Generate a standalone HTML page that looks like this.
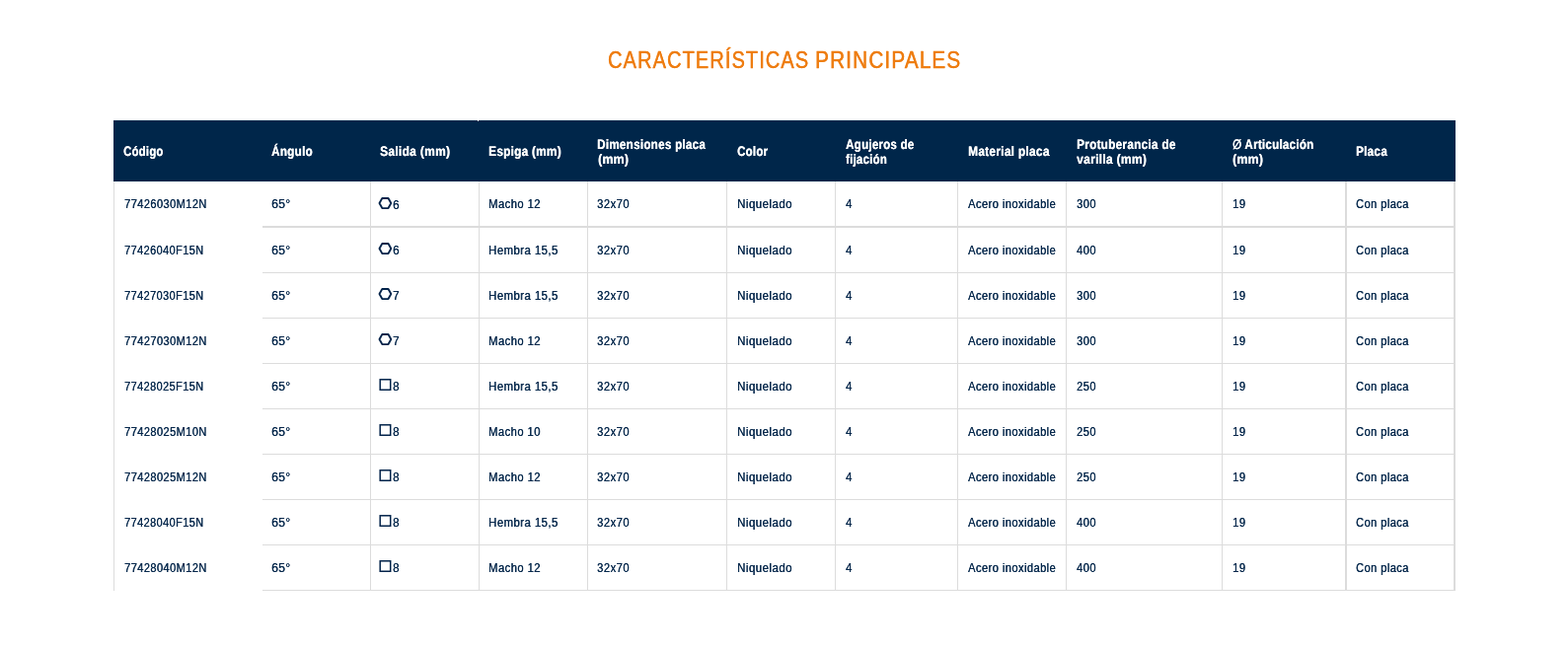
<!DOCTYPE html>
<html lang="es"><head><meta charset="utf-8"><title>Características principales</title>
<style>
html,body{margin:0;padding:0;background:#fff;}
body{width:1589px;height:657px;position:relative;overflow:hidden;font-family:"Liberation Sans",Arial,Helvetica,sans-serif;}
.t{position:absolute;white-space:nowrap;line-height:1;transform-origin:0 0;display:block;margin:0;padding:0;}
.b{text-shadow:0.4px 0 0 currentColor;letter-spacing:0.5px;}
.n{text-shadow:0.15px 0 0 currentColor;letter-spacing:0.2px;}
.h{letter-spacing:0.3px;text-shadow:0.3px 0 0 currentColor;}
.tt{text-shadow:0.3px 0 0 currentColor;-webkit-text-stroke:0.3px currentColor;letter-spacing:1.3px;}
.l{position:absolute;background:#dcdcdc;}
.hd{position:absolute;left:115px;top:122px;width:1360px;height:62px;background:#00264a;}
svg{position:absolute;overflow:visible;}
</style></head><body>
<div class="hd"></div>
<div class="l" style="left:115px;top:184px;width:1px;height:415px"></div>
<div style="position:absolute;left:484px;top:122px;width:1px;height:1px;background:#e8e8e8"></div>
<div class="l" style="left:375px;top:184px;width:1px;height:415px"></div>
<div class="l" style="left:485px;top:184px;width:1px;height:415px"></div>
<div class="l" style="left:595px;top:184px;width:1px;height:415px"></div>
<div class="l" style="left:736px;top:184px;width:1px;height:415px"></div>
<div class="l" style="left:846px;top:184px;width:1px;height:415px"></div>
<div class="l" style="left:970px;top:184px;width:1px;height:415px"></div>
<div class="l" style="left:1080px;top:184px;width:1px;height:415px"></div>
<div class="l" style="left:1238px;top:184px;width:1px;height:415px"></div>
<div class="l" style="left:1363px;top:184px;width:2px;height:415px"></div>
<div class="l" style="left:1473px;top:184px;width:2px;height:415px"></div>
<div class="l" style="left:266px;top:229px;width:1209px;height:2px"></div>
<div class="l" style="left:266px;top:276px;width:1209px;height:1px"></div>
<div class="l" style="left:266px;top:322px;width:1209px;height:1px"></div>
<div class="l" style="left:266px;top:368px;width:1209px;height:1px"></div>
<div class="l" style="left:266px;top:414px;width:1209px;height:1px"></div>
<div class="l" style="left:266px;top:460px;width:1209px;height:1px"></div>
<div class="l" style="left:266px;top:506px;width:1209px;height:1px"></div>
<div class="l" style="left:266px;top:552px;width:1209px;height:1px"></div>
<div class="l" style="left:266px;top:598px;width:1209px;height:1px"></div>
<svg style="left:383px;top:199px" width="15" height="14" viewBox="0 0 15 14"><polygon points="1.5,7 4.3,1.95 10.5,1.95 13.3,7 10.5,12.05 4.3,12.05" fill="none" stroke="#02234a" stroke-width="1.85" stroke-linejoin="round"/></svg>
<svg style="left:383px;top:245px" width="15" height="14" viewBox="0 0 15 14"><polygon points="1.5,7 4.3,1.95 10.5,1.95 13.3,7 10.5,12.05 4.3,12.05" fill="none" stroke="#02234a" stroke-width="1.85" stroke-linejoin="round"/></svg>
<svg style="left:383px;top:291px" width="15" height="14" viewBox="0 0 15 14"><polygon points="1.5,7 4.3,1.95 10.5,1.95 13.3,7 10.5,12.05 4.3,12.05" fill="none" stroke="#02234a" stroke-width="1.85" stroke-linejoin="round"/></svg>
<svg style="left:383px;top:337px" width="15" height="14" viewBox="0 0 15 14"><polygon points="1.5,7 4.3,1.95 10.5,1.95 13.3,7 10.5,12.05 4.3,12.05" fill="none" stroke="#02234a" stroke-width="1.85" stroke-linejoin="round"/></svg>
<svg style="left:384px;top:383px" width="14" height="14" viewBox="0 0 14 14"><rect x="1.2" y="1.8" width="10.5" height="10.45" fill="none" stroke="#02234a" stroke-width="1.5"/></svg>
<svg style="left:384px;top:429px" width="14" height="14" viewBox="0 0 14 14"><rect x="1.2" y="1.8" width="10.5" height="10.45" fill="none" stroke="#02234a" stroke-width="1.5"/></svg>
<svg style="left:384px;top:475px" width="14" height="14" viewBox="0 0 14 14"><rect x="1.2" y="1.8" width="10.5" height="10.45" fill="none" stroke="#02234a" stroke-width="1.5"/></svg>
<svg style="left:384px;top:521px" width="14" height="14" viewBox="0 0 14 14"><rect x="1.2" y="1.8" width="10.5" height="10.45" fill="none" stroke="#02234a" stroke-width="1.5"/></svg>
<svg style="left:384px;top:567px" width="14" height="14" viewBox="0 0 14 14"><rect x="1.2" y="1.8" width="10.5" height="10.45" fill="none" stroke="#02234a" stroke-width="1.5"/></svg>
<h2 style="margin:0;font:inherit"><span class="t tt" id="title" style="left:616.00px;top:50.00px;font-size:23.4px;font-weight:400;color:#ee7d11;transform:scaleX(0.8540)">CARACTERÍSTICAS</span>
<span class="t tt" id="title2" style="left:826.00px;top:50.00px;font-size:23.4px;font-weight:400;color:#ee7d11;transform:scaleX(0.8869)">PRINCIPALES</span>
</h2>
<div class="t h" id="h0" style="left:125.00px;top:147.00px;font-size:13.8px;font-weight:700;color:#fff;transform:scaleX(0.8205) rotate(0.03deg)">Código</div>
<div class="t h" id="h1" style="left:275.00px;top:147.00px;font-size:13.8px;font-weight:700;color:#fff;transform:scaleX(0.8477) rotate(0.03deg)">Ángulo</div>
<div class="t h" id="h2" style="left:385.00px;top:147.00px;font-size:13.8px;font-weight:700;color:#fff;transform:scaleX(0.8729) rotate(0.03deg)">Salida (mm)</div>
<div class="t h" id="h3" style="left:495.00px;top:147.00px;font-size:13.8px;font-weight:700;color:#fff;transform:scaleX(0.8575) rotate(0.03deg)">Espiga (mm)</div>
<div class="t h" id="h4a" style="left:605.00px;top:140.00px;font-size:13.8px;font-weight:700;color:#fff;transform:scaleX(0.8460) rotate(0.03deg)">Dimensiones placa</div>
<div class="t h" id="h4b" style="left:606.00px;top:155.00px;font-size:13.8px;font-weight:700;color:#fff;transform:scaleX(0.8933) rotate(0.03deg)">(mm)</div>
<div class="t h" id="h5" style="left:747.00px;top:147.00px;font-size:13.8px;font-weight:700;color:#fff;transform:scaleX(0.8350) rotate(0.03deg)">Color</div>
<div class="t h" id="h6a" style="left:857.00px;top:140.00px;font-size:13.8px;font-weight:700;color:#fff;transform:scaleX(0.8362) rotate(0.03deg)">Agujeros de</div>
<div class="t h" id="h6b" style="left:857.00px;top:155.00px;font-size:13.8px;font-weight:700;color:#fff;transform:scaleX(0.8265) rotate(0.03deg)">fijación</div>
<div class="t h" id="h7" style="left:981.00px;top:147.00px;font-size:13.8px;font-weight:700;color:#fff;transform:scaleX(0.8646) rotate(0.03deg)">Material placa</div>
<div class="t h" id="h8a" style="left:1091.00px;top:140.00px;font-size:13.8px;font-weight:700;color:#fff;transform:scaleX(0.8551) rotate(0.03deg)">Protuberancia de</div>
<div class="t h" id="h8b" style="left:1091.00px;top:155.00px;font-size:13.8px;font-weight:700;color:#fff;transform:scaleX(0.8779) rotate(0.03deg)">varilla (mm)</div>
<div class="t h" id="h9a" style="left:1249.00px;top:140.00px;font-size:13.8px;font-weight:700;color:#fff;transform:scaleX(0.8411) rotate(0.03deg)"><span style="font-weight:400">Ø</span> Articulación</div>
<div class="t h" id="h9b" style="left:1249.00px;top:155.00px;font-size:13.8px;font-weight:700;color:#fff;transform:scaleX(0.8920) rotate(0.03deg)">(mm)</div>
<div class="t h" id="h10" style="left:1374.00px;top:147.00px;font-size:13.8px;font-weight:700;color:#fff;transform:scaleX(0.8501) rotate(0.03deg)">Placa</div>
<div class="t b" id="r0c0" style="left:126.00px;top:201.00px;font-size:12.5px;font-weight:400;color:#06284c;transform:scaleX(0.8803)">77426030M12N</div>
<div class="t b n" id="r0c1" style="left:275.00px;top:201.00px;font-size:12.5px;font-weight:400;color:#06284c;transform:scaleX(0.9909)">65°</div>
<div class="t b" id="r0c2" style="left:398.00px;top:202.00px;font-size:12.5px;font-weight:400;color:#06284c;transform:scaleX(0.9341)">6</div>
<div class="t b" id="r0c3" style="left:495.00px;top:201.00px;font-size:12.5px;font-weight:400;color:#06284c;transform:scaleX(0.8966)">Macho 12</div>
<div class="t b" id="r0c4" style="left:605.00px;top:201.00px;font-size:12.5px;font-weight:400;color:#06284c;transform:scaleX(0.8976)">32x70</div>
<div class="t b" id="r0c5" style="left:747.00px;top:201.00px;font-size:12.5px;font-weight:400;color:#06284c;transform:scaleX(0.9186)">Niquelado</div>
<div class="t b" id="r0c6" style="left:857.00px;top:201.00px;font-size:12.5px;font-weight:400;color:#06284c;transform:scaleX(0.9072)">4</div>
<div class="t b" id="r0c7" style="left:981.00px;top:201.00px;font-size:12.5px;font-weight:400;color:#06284c;transform:scaleX(0.8863)">Acero inoxidable</div>
<div class="t b" id="r0c8" style="left:1091.00px;top:201.00px;font-size:12.5px;font-weight:400;color:#06284c;transform:scaleX(0.8871)">300</div>
<div class="t b" id="r0c9" style="left:1249.00px;top:201.00px;font-size:12.5px;font-weight:400;color:#06284c;transform:scaleX(0.8978)">19</div>
<div class="t b" id="r0c10" style="left:1374.00px;top:201.00px;font-size:12.5px;font-weight:400;color:#06284c;transform:scaleX(0.8826)">Con placa</div>
<div class="t b" id="r1c0" style="left:126.00px;top:248.00px;font-size:12.5px;font-weight:400;color:#06284c;transform:scaleX(0.8725)">77426040F15N</div>
<div class="t b n" id="r1c1" style="left:275.00px;top:248.00px;font-size:12.5px;font-weight:400;color:#06284c;transform:scaleX(0.9909)">65°</div>
<div class="t b" id="r1c2" style="left:398.00px;top:248.00px;font-size:12.5px;font-weight:400;color:#06284c;transform:scaleX(0.9341)">6</div>
<div class="t b" id="r1c3" style="left:495.00px;top:248.00px;font-size:12.5px;font-weight:400;color:#06284c;transform:scaleX(0.9077)">Hembra 15,5</div>
<div class="t b" id="r1c4" style="left:605.00px;top:248.00px;font-size:12.5px;font-weight:400;color:#06284c;transform:scaleX(0.8976)">32x70</div>
<div class="t b" id="r1c5" style="left:747.00px;top:248.00px;font-size:12.5px;font-weight:400;color:#06284c;transform:scaleX(0.9186)">Niquelado</div>
<div class="t b" id="r1c6" style="left:857.00px;top:248.00px;font-size:12.5px;font-weight:400;color:#06284c;transform:scaleX(0.9072)">4</div>
<div class="t b" id="r1c7" style="left:981.00px;top:248.00px;font-size:12.5px;font-weight:400;color:#06284c;transform:scaleX(0.8863)">Acero inoxidable</div>
<div class="t b" id="r1c8" style="left:1091.00px;top:248.00px;font-size:12.5px;font-weight:400;color:#06284c;transform:scaleX(0.8869)">400</div>
<div class="t b" id="r1c9" style="left:1249.00px;top:248.00px;font-size:12.5px;font-weight:400;color:#06284c;transform:scaleX(0.8978)">19</div>
<div class="t b" id="r1c10" style="left:1374.00px;top:248.00px;font-size:12.5px;font-weight:400;color:#06284c;transform:scaleX(0.8826)">Con placa</div>
<div class="t b" id="r2c0" style="left:126.00px;top:294.00px;font-size:12.5px;font-weight:400;color:#06284c;transform:scaleX(0.8725)">77427030F15N</div>
<div class="t b n" id="r2c1" style="left:275.00px;top:294.00px;font-size:12.5px;font-weight:400;color:#06284c;transform:scaleX(0.9909)">65°</div>
<div class="t b" id="r2c2" style="left:398.00px;top:294.00px;font-size:12.5px;font-weight:400;color:#06284c;transform:scaleX(0.9260)">7</div>
<div class="t b" id="r2c3" style="left:495.00px;top:294.00px;font-size:12.5px;font-weight:400;color:#06284c;transform:scaleX(0.9077)">Hembra 15,5</div>
<div class="t b" id="r2c4" style="left:605.00px;top:294.00px;font-size:12.5px;font-weight:400;color:#06284c;transform:scaleX(0.8976)">32x70</div>
<div class="t b" id="r2c5" style="left:747.00px;top:294.00px;font-size:12.5px;font-weight:400;color:#06284c;transform:scaleX(0.9186)">Niquelado</div>
<div class="t b" id="r2c6" style="left:857.00px;top:294.00px;font-size:12.5px;font-weight:400;color:#06284c;transform:scaleX(0.9072)">4</div>
<div class="t b" id="r2c7" style="left:981.00px;top:294.00px;font-size:12.5px;font-weight:400;color:#06284c;transform:scaleX(0.8863)">Acero inoxidable</div>
<div class="t b" id="r2c8" style="left:1091.00px;top:294.00px;font-size:12.5px;font-weight:400;color:#06284c;transform:scaleX(0.8871)">300</div>
<div class="t b" id="r2c9" style="left:1249.00px;top:294.00px;font-size:12.5px;font-weight:400;color:#06284c;transform:scaleX(0.8978)">19</div>
<div class="t b" id="r2c10" style="left:1374.00px;top:294.00px;font-size:12.5px;font-weight:400;color:#06284c;transform:scaleX(0.8826)">Con placa</div>
<div class="t b" id="r3c0" style="left:126.00px;top:340.00px;font-size:12.5px;font-weight:400;color:#06284c;transform:scaleX(0.8803)">77427030M12N</div>
<div class="t b n" id="r3c1" style="left:275.00px;top:340.00px;font-size:12.5px;font-weight:400;color:#06284c;transform:scaleX(0.9909)">65°</div>
<div class="t b" id="r3c2" style="left:398.00px;top:340.00px;font-size:12.5px;font-weight:400;color:#06284c;transform:scaleX(0.9260)">7</div>
<div class="t b" id="r3c3" style="left:495.00px;top:340.00px;font-size:12.5px;font-weight:400;color:#06284c;transform:scaleX(0.8966)">Macho 12</div>
<div class="t b" id="r3c4" style="left:605.00px;top:340.00px;font-size:12.5px;font-weight:400;color:#06284c;transform:scaleX(0.8976)">32x70</div>
<div class="t b" id="r3c5" style="left:747.00px;top:340.00px;font-size:12.5px;font-weight:400;color:#06284c;transform:scaleX(0.9186)">Niquelado</div>
<div class="t b" id="r3c6" style="left:857.00px;top:340.00px;font-size:12.5px;font-weight:400;color:#06284c;transform:scaleX(0.9072)">4</div>
<div class="t b" id="r3c7" style="left:981.00px;top:340.00px;font-size:12.5px;font-weight:400;color:#06284c;transform:scaleX(0.8863)">Acero inoxidable</div>
<div class="t b" id="r3c8" style="left:1091.00px;top:340.00px;font-size:12.5px;font-weight:400;color:#06284c;transform:scaleX(0.8871)">300</div>
<div class="t b" id="r3c9" style="left:1249.00px;top:340.00px;font-size:12.5px;font-weight:400;color:#06284c;transform:scaleX(0.8978)">19</div>
<div class="t b" id="r3c10" style="left:1374.00px;top:340.00px;font-size:12.5px;font-weight:400;color:#06284c;transform:scaleX(0.8826)">Con placa</div>
<div class="t b" id="r4c0" style="left:126.00px;top:386.00px;font-size:12.5px;font-weight:400;color:#06284c;transform:scaleX(0.8725)">77428025F15N</div>
<div class="t b n" id="r4c1" style="left:275.00px;top:386.00px;font-size:12.5px;font-weight:400;color:#06284c;transform:scaleX(0.9909)">65°</div>
<div class="t b" id="r4c2" style="left:398.00px;top:386.00px;font-size:12.5px;font-weight:400;color:#06284c;transform:scaleX(0.9303)">8</div>
<div class="t b" id="r4c3" style="left:495.00px;top:386.00px;font-size:12.5px;font-weight:400;color:#06284c;transform:scaleX(0.9077)">Hembra 15,5</div>
<div class="t b" id="r4c4" style="left:605.00px;top:386.00px;font-size:12.5px;font-weight:400;color:#06284c;transform:scaleX(0.8976)">32x70</div>
<div class="t b" id="r4c5" style="left:747.00px;top:386.00px;font-size:12.5px;font-weight:400;color:#06284c;transform:scaleX(0.9186)">Niquelado</div>
<div class="t b" id="r4c6" style="left:857.00px;top:386.00px;font-size:12.5px;font-weight:400;color:#06284c;transform:scaleX(0.9072)">4</div>
<div class="t b" id="r4c7" style="left:981.00px;top:386.00px;font-size:12.5px;font-weight:400;color:#06284c;transform:scaleX(0.8863)">Acero inoxidable</div>
<div class="t b" id="r4c8" style="left:1091.00px;top:386.00px;font-size:12.5px;font-weight:400;color:#06284c;transform:scaleX(0.8812)">250</div>
<div class="t b" id="r4c9" style="left:1249.00px;top:386.00px;font-size:12.5px;font-weight:400;color:#06284c;transform:scaleX(0.8978)">19</div>
<div class="t b" id="r4c10" style="left:1374.00px;top:386.00px;font-size:12.5px;font-weight:400;color:#06284c;transform:scaleX(0.8826)">Con placa</div>
<div class="t b" id="r5c0" style="left:126.00px;top:432.00px;font-size:12.5px;font-weight:400;color:#06284c;transform:scaleX(0.8803)">77428025M10N</div>
<div class="t b n" id="r5c1" style="left:275.00px;top:432.00px;font-size:12.5px;font-weight:400;color:#06284c;transform:scaleX(0.9909)">65°</div>
<div class="t b" id="r5c2" style="left:398.00px;top:432.00px;font-size:12.5px;font-weight:400;color:#06284c;transform:scaleX(0.9303)">8</div>
<div class="t b" id="r5c3" style="left:495.00px;top:432.00px;font-size:12.5px;font-weight:400;color:#06284c;transform:scaleX(0.8947)">Macho 10</div>
<div class="t b" id="r5c4" style="left:605.00px;top:432.00px;font-size:12.5px;font-weight:400;color:#06284c;transform:scaleX(0.8976)">32x70</div>
<div class="t b" id="r5c5" style="left:747.00px;top:432.00px;font-size:12.5px;font-weight:400;color:#06284c;transform:scaleX(0.9186)">Niquelado</div>
<div class="t b" id="r5c6" style="left:857.00px;top:432.00px;font-size:12.5px;font-weight:400;color:#06284c;transform:scaleX(0.9072)">4</div>
<div class="t b" id="r5c7" style="left:981.00px;top:432.00px;font-size:12.5px;font-weight:400;color:#06284c;transform:scaleX(0.8863)">Acero inoxidable</div>
<div class="t b" id="r5c8" style="left:1091.00px;top:432.00px;font-size:12.5px;font-weight:400;color:#06284c;transform:scaleX(0.8812)">250</div>
<div class="t b" id="r5c9" style="left:1249.00px;top:432.00px;font-size:12.5px;font-weight:400;color:#06284c;transform:scaleX(0.8978)">19</div>
<div class="t b" id="r5c10" style="left:1374.00px;top:432.00px;font-size:12.5px;font-weight:400;color:#06284c;transform:scaleX(0.8826)">Con placa</div>
<div class="t b" id="r6c0" style="left:126.00px;top:478.00px;font-size:12.5px;font-weight:400;color:#06284c;transform:scaleX(0.8803)">77428025M12N</div>
<div class="t b n" id="r6c1" style="left:275.00px;top:478.00px;font-size:12.5px;font-weight:400;color:#06284c;transform:scaleX(0.9909)">65°</div>
<div class="t b" id="r6c2" style="left:398.00px;top:478.00px;font-size:12.5px;font-weight:400;color:#06284c;transform:scaleX(0.9303)">8</div>
<div class="t b" id="r6c3" style="left:495.00px;top:478.00px;font-size:12.5px;font-weight:400;color:#06284c;transform:scaleX(0.8966)">Macho 12</div>
<div class="t b" id="r6c4" style="left:605.00px;top:478.00px;font-size:12.5px;font-weight:400;color:#06284c;transform:scaleX(0.8976)">32x70</div>
<div class="t b" id="r6c5" style="left:747.00px;top:478.00px;font-size:12.5px;font-weight:400;color:#06284c;transform:scaleX(0.9186)">Niquelado</div>
<div class="t b" id="r6c6" style="left:857.00px;top:478.00px;font-size:12.5px;font-weight:400;color:#06284c;transform:scaleX(0.9072)">4</div>
<div class="t b" id="r6c7" style="left:981.00px;top:478.00px;font-size:12.5px;font-weight:400;color:#06284c;transform:scaleX(0.8863)">Acero inoxidable</div>
<div class="t b" id="r6c8" style="left:1091.00px;top:478.00px;font-size:12.5px;font-weight:400;color:#06284c;transform:scaleX(0.8812)">250</div>
<div class="t b" id="r6c9" style="left:1249.00px;top:478.00px;font-size:12.5px;font-weight:400;color:#06284c;transform:scaleX(0.8978)">19</div>
<div class="t b" id="r6c10" style="left:1374.00px;top:478.00px;font-size:12.5px;font-weight:400;color:#06284c;transform:scaleX(0.8826)">Con placa</div>
<div class="t b" id="r7c0" style="left:126.00px;top:524.00px;font-size:12.5px;font-weight:400;color:#06284c;transform:scaleX(0.8725)">77428040F15N</div>
<div class="t b n" id="r7c1" style="left:275.00px;top:524.00px;font-size:12.5px;font-weight:400;color:#06284c;transform:scaleX(0.9909)">65°</div>
<div class="t b" id="r7c2" style="left:398.00px;top:524.00px;font-size:12.5px;font-weight:400;color:#06284c;transform:scaleX(0.9303)">8</div>
<div class="t b" id="r7c3" style="left:495.00px;top:524.00px;font-size:12.5px;font-weight:400;color:#06284c;transform:scaleX(0.9077)">Hembra 15,5</div>
<div class="t b" id="r7c4" style="left:605.00px;top:524.00px;font-size:12.5px;font-weight:400;color:#06284c;transform:scaleX(0.8976)">32x70</div>
<div class="t b" id="r7c5" style="left:747.00px;top:524.00px;font-size:12.5px;font-weight:400;color:#06284c;transform:scaleX(0.9186)">Niquelado</div>
<div class="t b" id="r7c6" style="left:857.00px;top:524.00px;font-size:12.5px;font-weight:400;color:#06284c;transform:scaleX(0.9072)">4</div>
<div class="t b" id="r7c7" style="left:981.00px;top:524.00px;font-size:12.5px;font-weight:400;color:#06284c;transform:scaleX(0.8863)">Acero inoxidable</div>
<div class="t b" id="r7c8" style="left:1091.00px;top:524.00px;font-size:12.5px;font-weight:400;color:#06284c;transform:scaleX(0.8869)">400</div>
<div class="t b" id="r7c9" style="left:1249.00px;top:524.00px;font-size:12.5px;font-weight:400;color:#06284c;transform:scaleX(0.8978)">19</div>
<div class="t b" id="r7c10" style="left:1374.00px;top:524.00px;font-size:12.5px;font-weight:400;color:#06284c;transform:scaleX(0.8826)">Con placa</div>
<div class="t b" id="r8c0" style="left:126.00px;top:570.00px;font-size:12.5px;font-weight:400;color:#06284c;transform:scaleX(0.8803)">77428040M12N</div>
<div class="t b n" id="r8c1" style="left:275.00px;top:570.00px;font-size:12.5px;font-weight:400;color:#06284c;transform:scaleX(0.9909)">65°</div>
<div class="t b" id="r8c2" style="left:398.00px;top:570.00px;font-size:12.5px;font-weight:400;color:#06284c;transform:scaleX(0.9303)">8</div>
<div class="t b" id="r8c3" style="left:495.00px;top:570.00px;font-size:12.5px;font-weight:400;color:#06284c;transform:scaleX(0.8966)">Macho 12</div>
<div class="t b" id="r8c4" style="left:605.00px;top:570.00px;font-size:12.5px;font-weight:400;color:#06284c;transform:scaleX(0.8976)">32x70</div>
<div class="t b" id="r8c5" style="left:747.00px;top:570.00px;font-size:12.5px;font-weight:400;color:#06284c;transform:scaleX(0.9186)">Niquelado</div>
<div class="t b" id="r8c6" style="left:857.00px;top:570.00px;font-size:12.5px;font-weight:400;color:#06284c;transform:scaleX(0.9072)">4</div>
<div class="t b" id="r8c7" style="left:981.00px;top:570.00px;font-size:12.5px;font-weight:400;color:#06284c;transform:scaleX(0.8863)">Acero inoxidable</div>
<div class="t b" id="r8c8" style="left:1091.00px;top:570.00px;font-size:12.5px;font-weight:400;color:#06284c;transform:scaleX(0.8869)">400</div>
<div class="t b" id="r8c9" style="left:1249.00px;top:570.00px;font-size:12.5px;font-weight:400;color:#06284c;transform:scaleX(0.8978)">19</div>
<div class="t b" id="r8c10" style="left:1374.00px;top:570.00px;font-size:12.5px;font-weight:400;color:#06284c;transform:scaleX(0.8826)">Con placa</div>
</body></html>
